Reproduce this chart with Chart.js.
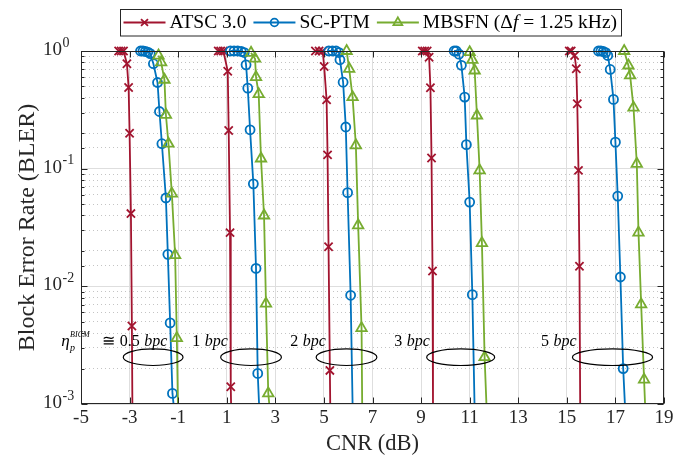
<!DOCTYPE html>
<html><head><meta charset="utf-8">
<script src="https://cdn.jsdelivr.net/npm/chart.js@4.4.1/dist/chart.umd.min.js"></script>
<style>html,body{margin:0;padding:0;background:#fff;}canvas{display:block;}</style>
</head><body>
<canvas id="c" width="689" height="462"></canvas>
<script>
// ---------------- data ----------------
const bpcGroups = ['0.5', '1', '2', '3', '5'];
const xTickValues = [-5, -3, -1, 1, 3, 5, 7, 9, 11, 13, 15, 17, 19];
const yDecades = [1e-3, 1e-2, 1e-1, 1];

// ATSC 3.0
const atscCNR = [
  [-3.45, -3.35, -3.25, -3.11, -3.04, -3.00, -2.945, -2.905],
  [0.65, 0.75, 0.86, 1.04, 1.08, 1.135, 1.165],
  [4.65, 4.80, 4.95, 5.01, 5.11, 5.15, 5.19, 5.245],
  [9.05, 9.15, 9.25, 9.33, 9.385, 9.43, 9.47],
  [15.10, 15.18, 15.32, 15.39, 15.43, 15.48, 15.52]
];
const atscBLER = [
  [1, 1, 1, 0.78, 0.49, 0.20, 0.0415, 0.0046],
  [1, 1, 1, 0.674, 0.211, 0.0286, 0.0014],
  [1, 1, 1, 0.739, 0.385, 0.131, 0.0217, 0.00193],
  [1, 1, 1, 0.886, 0.487, 0.123, 0.0135],
  [1, 1, 0.916, 0.706, 0.356, 0.0967, 0.0148]
];
const atscFloorCNR = [-2.885, 1.178, 5.26, 9.49, 15.55];   // where each curve meets 1e-3

// SC-PTM
const scptmCNR = [
  [-2.55, -2.45, -2.35, -2.25, -2.15, -2.02, -1.85, -1.77, -1.67, -1.505, -1.425, -1.33, -1.235],
  [1.15, 1.30, 1.45, 1.60, 1.72, 1.795, 1.865, 1.96, 2.095, 2.205, 2.275],
  [5.20, 5.35, 5.50, 5.62, 5.66, 5.79, 5.90, 5.975, 6.10],
  [10.36, 10.45, 10.56, 10.66, 10.795, 10.865, 11.00, 11.11],
  [16.30, 16.40, 16.50, 16.60, 16.685, 16.785, 16.92, 17.00, 17.095, 17.205, 17.32]
];
const scptmBLER = [
  [1, 1, 0.99, 0.98, 0.95, 0.78, 0.54, 0.306, 0.163, 0.0563, 0.0187, 0.00489, 0.00123],
  [1, 1, 1, 0.99, 0.97, 0.763, 0.483, 0.214, 0.0743, 0.0142, 0.00182],
  [1, 1, 1, 0.97, 0.842, 0.543, 0.226, 0.0625, 0.00839],
  [1, 1, 0.94, 0.756, 0.406, 0.16, 0.052, 0.0085],
  [1, 1, 0.99, 0.97, 0.916, 0.697, 0.388, 0.168, 0.0585, 0.012, 0.002]
];
const scptmFloorCNR = [-1.19, 2.33, 6.18, 11.2, 17.39];

// MBSFN (Δf = 1.25 kHz)
const mbsfnCNR = [
  [-1.81, -1.70, -1.565, -1.505, -1.40, -1.26, -1.125, -1.055],
  [2.00, 2.165, 2.205, 2.315, 2.41, 2.535, 2.615, 2.71],
  [5.935, 6.04, 6.18, 6.315, 6.41, 6.55],
  [11.00, 11.11, 11.205, 11.30, 11.41, 11.505, 11.615],
  [17.36, 17.535, 17.605, 17.745, 17.88, 17.95, 18.06, 18.18]
];
const mbsfnBLER = [
  [0.915, 0.80, 0.57, 0.287, 0.163, 0.0614, 0.0184, 0.00363],
  [0.965, 0.86, 0.60, 0.43, 0.122, 0.040, 0.00713, 0.00123],
  [1.0, 0.706, 0.405, 0.158, 0.033, 0.00441],
  [0.977, 0.842, 0.683, 0.283, 0.0967, 0.0233, 0.0025],
  [1.0, 0.753, 0.62, 0.33, 0.11, 0.0286, 0.00702, 0.00161]
];
const mbsfnFloorCNR = [-1.01, 2.75, 6.575, 11.69, 18.22];

// ---------------- styles / annotations ----------------
const FONT = '"Liberation Serif", "Times New Roman", serif';
const AX = '#262626';
const LW = 1.8;
const seriesDefs = [
  {name: 'ATSC 3.0', color: '#A2142F', style: 'crossRot', r: 5.8, cnr: atscCNR, bler: atscBLER, floor: atscFloorCNR, order: 2},
  {name: 'SC-PTM', color: '#0072BD', style: 'circle', r: 4.5, cnr: scptmCNR, bler: scptmBLER, floor: scptmFloorCNR, order: 1},
  {name: 'MBSFN', color: '#77AC30', style: 'triangle', r: 6.0, cnr: mbsfnCNR, bler: mbsfnBLER, floor: mbsfnFloorCNR, order: 0}
];
const noteY = 0.00337, ellY = 0.0025;
const notes = [
  {num: '0.5', right: -1.45, cx: -2.03, rx: 1.23, eta: true},
  {num: '1', right: 1.05, cx: 2.0, rx: 1.25},
  {num: '2', right: 5.08, cx: 5.93, rx: 1.25},
  {num: '3', right: 9.36, cx: 10.63, rx: 1.40},
  {num: '5', right: 15.40, cx: 16.88, rx: 1.65}
];
const LEG_FONT = 19.5;

const datasets = [];
seriesDefs.forEach(s => {
  s.cnr.forEach((xs, g) => {
    const ys = s.bler[g];
    const data = xs.map((x, i) => ({x: x, y: ys[i]}));
    data.push({x: s.floor[g], y: 1e-3});
    const radii = xs.map(() => s.r).concat([0]);
    datasets.push({
      label: s.name + ' ' + bpcGroups[g] + ' bpc',
      data: data, order: s.order,
      borderColor: s.color, backgroundColor: 'rgba(0,0,0,0)', borderWidth: LW,
      pointStyle: s.style, pointRadius: radii, pointHoverRadius: radii,
      pointBorderColor: s.color, pointBackgroundColor: 'rgba(0,0,0,0)', pointBorderWidth: LW,
      tension: 0, clip: {left: false, top: false, right: false, bottom: 0}
    });
  });
});

function isDecade(v) { const l = Math.log10(v); return Math.abs(l - Math.round(l)) < 1e-6; }

function marker(ctx, style, x, y, r, color) {
  ctx.save(); ctx.strokeStyle = color; ctx.lineWidth = LW; ctx.beginPath();
  if (style === 'circle') { ctx.arc(x, y, r, 0, Math.PI * 2); }
  else if (style === 'crossRot') { const o = r * Math.SQRT1_2; ctx.moveTo(x - o, y - o); ctx.lineTo(x + o, y + o); ctx.moveTo(x + o, y - o); ctx.lineTo(x - o, y + o); }
  else { for (let k = 0; k < 3; k++) { const a = k * 2 * Math.PI / 3; const px = x + Math.sin(a) * r, py = y - Math.cos(a) * r; k ? ctx.lineTo(px, py) : ctx.moveTo(px, py); } ctx.closePath(); }
  ctx.stroke(); ctx.restore();
}

// parts: {t, it, size, dy, gap(before), stack(true = same x as previous)}
function drawParts(ctx, parts, xRight, y) {
  let total = 0, prevX = 0, prevW = 0;
  parts.forEach(p => {
    ctx.font = (p.it ? 'italic ' : '') + p.size + 'px ' + FONT;
    p.w = ctx.measureText(p.t).width;
    if (p.stack) { p.x0 = prevX; total = Math.max(total, p.x0 + p.w); }
    else { total += (p.gap || 0); p.x0 = total; total += p.w; }
    prevX = p.x0; prevW = p.w;
  });
  const start = xRight - total;
  ctx.textBaseline = 'middle'; ctx.textAlign = 'left';
  parts.forEach(p => { ctx.font = (p.it ? 'italic ' : '') + p.size + 'px ' + FONT; ctx.fillText(p.t, start + p.x0, y + (p.dy || 0)); });
}

const mbsfnSegs = [['MBSFN (\u0394', false], ['f', true], [' = 1.25 kHz)', false]];
function mbsfnLegendWidth(ctx) {
  let w = 0;
  mbsfnSegs.forEach(sg => { ctx.font = (sg[1] ? 'italic ' : '') + LEG_FONT + 'px ' + FONT; w += ctx.measureText(sg[0]).width; });
  ctx.font = LEG_FONT + 'px ' + FONT;
  return w;
}

const deco = {
  id: 'deco',
  afterDatasetsDraw(chart) {
    const ctx = chart.ctx, xs = chart.scales.x, ys = chart.scales.y;
    ctx.save();
    ctx.fillStyle = '#000'; ctx.strokeStyle = '#000'; ctx.lineWidth = 1.2;
    notes.forEach(n => {
      const cx = xs.getPixelForValue(n.cx), rx = xs.getPixelForValue(n.cx + n.rx) - cx;
      ctx.beginPath(); ctx.ellipse(cx, ys.getPixelForValue(ellY), rx, 8.3, 0, 0, Math.PI * 2); ctx.stroke();
      const parts = [];
      if (n.eta) {
        parts.push({t: '\u03B7', it: true, size: 17});
        parts.push({t: 'p', it: true, size: 10, dy: 6, gap: 0.5});
        parts.push({t: 'BICM', it: true, size: 8, dy: -7, stack: true});
        parts.push({t: '\u2245', it: false, size: 16, gap: 12});
        parts.push({t: n.num, it: false, size: 16, gap: 5});
      } else {
        parts.push({t: n.num, it: false, size: 16});
      }
      parts.push({t: 'bpc', it: true, size: 16, gap: 4.5});
      drawParts(ctx, parts, xs.getPixelForValue(n.right), ys.getPixelForValue(noteY));
    });
    ctx.restore();
  },
  afterDraw(chart) {
    const ctx = chart.ctx, xs = chart.scales.x, ys = chart.scales.y, a = chart.chartArea;
    ctx.save();
    // frame + inward ticks
    ctx.strokeStyle = AX; ctx.lineWidth = 1;
    const L = Math.round(a.left) + 0.5, R = Math.round(a.right) - 0.5, T = Math.round(a.top) + 0.5, B = Math.round(a.bottom) - 0.5;
    ctx.strokeRect(L, T, R - L, B - T);
    ctx.beginPath();
    xTickValues.forEach(v => { const p = Math.round(xs.getPixelForValue(v)) + 0.5; ctx.moveTo(p, B); ctx.lineTo(p, B - 6); ctx.moveTo(p, T); ctx.lineTo(p, T + 6); });
    ys.ticks.forEach(t => { const len = isDecade(t.value) ? 6 : 3; const p = Math.round(ys.getPixelForValue(t.value)) + 0.5; ctx.moveTo(L, p); ctx.lineTo(L + len, p); ctx.moveTo(R, p); ctx.lineTo(R - len, p); });
    ctx.stroke();
    // y tick labels 10^n
    ctx.fillStyle = AX; ctx.textBaseline = 'middle'; ctx.textAlign = 'left';
    yDecades.forEach(d => {
      const y = ys.getPixelForValue(d), e = Math.round(Math.log10(d));
      ctx.font = '19px ' + FONT; ctx.fillText('10', 43, y - 1);
      const w = ctx.measureText('10').width;
      ctx.font = '14px ' + FONT; ctx.fillText(String(e), 43 + w + 0.5, y - 8);
    });
    // legend
    ctx.font = LEG_FONT + 'px ' + FONT; ctx.textBaseline = 'middle';
    const ly = 22.5, items = [];
    let x = 123.5;
    seriesDefs.forEach(s => { items.push({s, x}); const tw = s.name === 'MBSFN' ? mbsfnLegendWidth(ctx) : ctx.measureText(s.name).width; x += 46 + tw + 7; });
    const boxL = 120.5, boxR = Math.round(x - 3) + 0.5;
    ctx.fillStyle = '#fff'; ctx.fillRect(boxL, 9.5, boxR - boxL, 26.5);
    ctx.strokeStyle = AX; ctx.lineWidth = 1; ctx.strokeRect(boxL, 9.5, boxR - boxL, 26.5);
    items.forEach(it => {
      ctx.strokeStyle = it.s.color; ctx.lineWidth = LW; ctx.beginPath(); ctx.moveTo(it.x, ly); ctx.lineTo(it.x + 42, ly); ctx.stroke();
      marker(ctx, it.s.style, it.x + 21, ly, it.s.r * 0.85, it.s.color);
      ctx.fillStyle = '#000';
      if (it.s.name === 'MBSFN') {
        let tx = it.x + 46;
        mbsfnSegs.forEach(sg => { ctx.font = (sg[1] ? 'italic ' : '') + LEG_FONT + 'px ' + FONT; ctx.fillText(sg[0], tx, ly); tx += ctx.measureText(sg[0]).width; });
      } else { ctx.font = LEG_FONT + 'px ' + FONT; ctx.fillText(it.s.name, it.x + 46, ly); }
    });
    ctx.restore();
  }
};

Chart.defaults.font.family = FONT;
new Chart(document.getElementById('c'), {
  type: 'line',
  data: {datasets: datasets},
  options: {
    responsive: false, animation: false, devicePixelRatio: 1,
    layout: {padding: {left: 0, right: 25, top: 51, bottom: 0}},
    plugins: {legend: {display: false}, tooltip: {enabled: false}},
    events: [],
    scales: {
      x: {
        type: 'linear', min: -5, max: 19,
        ticks: {stepSize: 2, autoSkip: false, maxRotation: 0, padding: 3, color: AX, font: {family: FONT, size: 19}},
        grid: {color: '#dedede', lineWidth: 1, drawTicks: false},
        border: {display: false},
        title: {display: true, text: 'CNR (dB)', color: AX, font: {family: FONT, size: 22.5}, padding: {top: 0, bottom: 4}},
        afterFit: s => { s.height = 58; }
      },
      y: {
        type: 'logarithmic', min: 1e-3, max: 1,
        ticks: {display: false, autoSkip: false},
        grid: {drawTicks: false, lineWidth: 1, color: c => isDecade(c.tick.value) ? '#dedede' : '#c4c4c4'},
        border: {display: false, dash: c => (c.tick && !isDecade(c.tick.value)) ? [1, 3] : []},
        title: {display: true, text: 'Block Error Rate (BLER)', color: AX, font: {family: FONT, size: 24}, padding: {top: 13, bottom: 0}},
        afterFit: s => { s.width = 81; }
      }
    }
  },
  plugins: [deco]
});
</script>
</body></html>
